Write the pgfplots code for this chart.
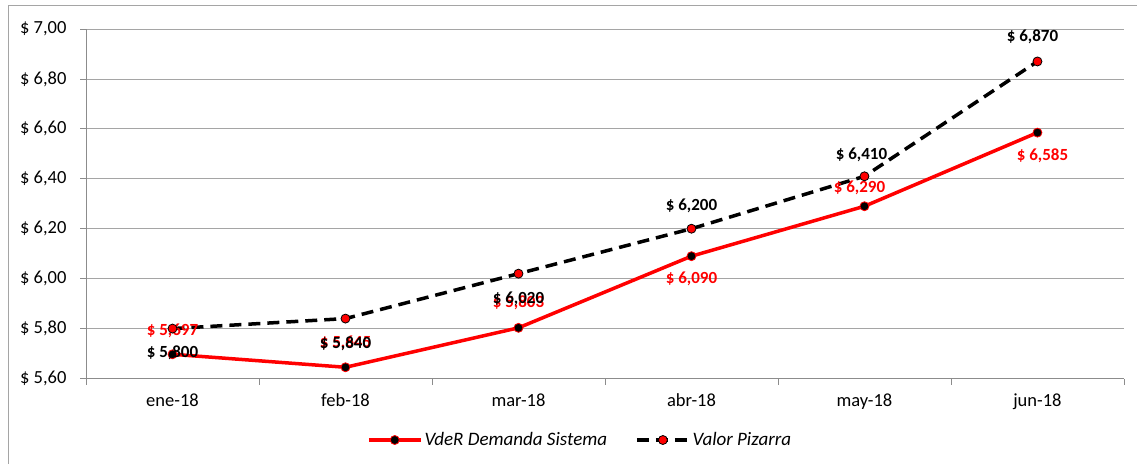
\documentclass[border=0pt]{standalone}
\usepackage{fontspec}
\setmainfont{Carlito}
\usepackage{pgfplots}
\usepackage{pgfplotstable}
\pgfplotsset{compat=1.18}

\definecolor{vred}{RGB}{255,0,0}
\definecolor{gridgray}{RGB}{165,165,165}
\definecolor{axgray}{RGB}{140,140,140}

% x  y  label offsets (pt)
\pgfplotstableread{
x y dx dy
0 5.697 0 23
1 5.645 0 24
2 5.803 0 25
3 6.090 0 -23
4 6.290 -5 18
5 6.585 5 -23
}\vder

\pgfplotstableread{
x y dx dy
0 5.800 0 -24
1 5.840 0 -25
2 6.020 0 -25
3 6.200 0 23
4 6.410 -3 21
5 6.870 -5 25
}\pizarra

\begin{document}
\begin{tikzpicture}
\useasboundingbox (0pt,0pt) rectangle (1137pt,464pt);
\draw[gridgray, line width=1pt] (8pt,0pt) -- (8pt,458pt) -- (1137pt,458pt);
\begin{axis}[
  at={(86pt,85.5pt)}, anchor=south west,
  scale only axis,
  width=1038pt, height=349.5pt,
  xmin=-0.5, xmax=5.5,
  ymin=5.6, ymax=7.0,
  axis x line*=bottom, axis y line*=left,
  axis line style={axgray, line width=0.8pt},
  xtick={-0.5,0.5,1.5,2.5,3.5,4.5,5.5},
  xticklabels={ene-18,feb-18,mar-18,abr-18,may-18,jun-18,},
  xticklabel style={xshift=86.5pt, yshift=-6pt},
  ytick={5.6,5.8,6.0,6.2,6.4,6.6,6.8,7.0},
  yticklabel={\$ \pgfmathprintnumber[fixed,fixed zerofill,precision=2,use comma]{\tick}},
  yticklabel style={xshift=-10pt},
  /pgf/number format/assume math mode=true,
  tick align=outside,
  major tick length=6pt,
  tick style={axgray, line width=0.8pt},
  ymajorgrids,
  grid style={gridgray, line width=0.8pt},
  ticklabel style={font=\fontsize{18.5}{21}\selectfont},
  clip=false,
  legend columns=2,
  legend style={at={(0.476,-0.176)}, anchor=center, draw=none,
    font=\fontsize{19}{22}\selectfont\itshape,
    /tikz/every even column/.append style={column sep=26pt}},
  legend image code/.code={
    \draw[#1,mark repeat=2,mark phase=2] plot coordinates {(0pt,0pt) (26pt,0pt) (52pt,0pt)};
  },
  nodes near coords={\$ \pgfmathprintnumber[fixed,fixed zerofill,precision=3,use comma]{\pgfplotspointmeta}},
  visualization depends on={\thisrow{dx}\as\dx},
  visualization depends on={\thisrow{dy}\as\dy},
]
\addplot[vred, line width=3.5pt, mark=*, mark size=4.5pt,
  mark options={fill=black, draw=vred, line width=0.8pt, solid},
  every node near coord/.append style={anchor=center, xshift=\dx pt, yshift=\dy pt,
    text=vred, font=\fontsize{17}{20}\selectfont\bfseries}]
  table[x=x, y=y] {\vder};
\addlegendentry{VdeR Demanda Sistema}
\addplot[black, line width=3.5pt, dash pattern=on 12pt off 7pt, mark=*, mark size=4.5pt,
  mark options={fill=vred, draw=black, line width=0.8pt, solid},
  every node near coord/.append style={anchor=center, xshift=\dx pt, yshift=\dy pt,
    text=black, font=\fontsize{17}{20}\selectfont\bfseries}]
  table[x=x, y=y] {\pizarra};
\addlegendentry{Valor Pizarra}
\end{axis}
\end{tikzpicture}
\end{document}
